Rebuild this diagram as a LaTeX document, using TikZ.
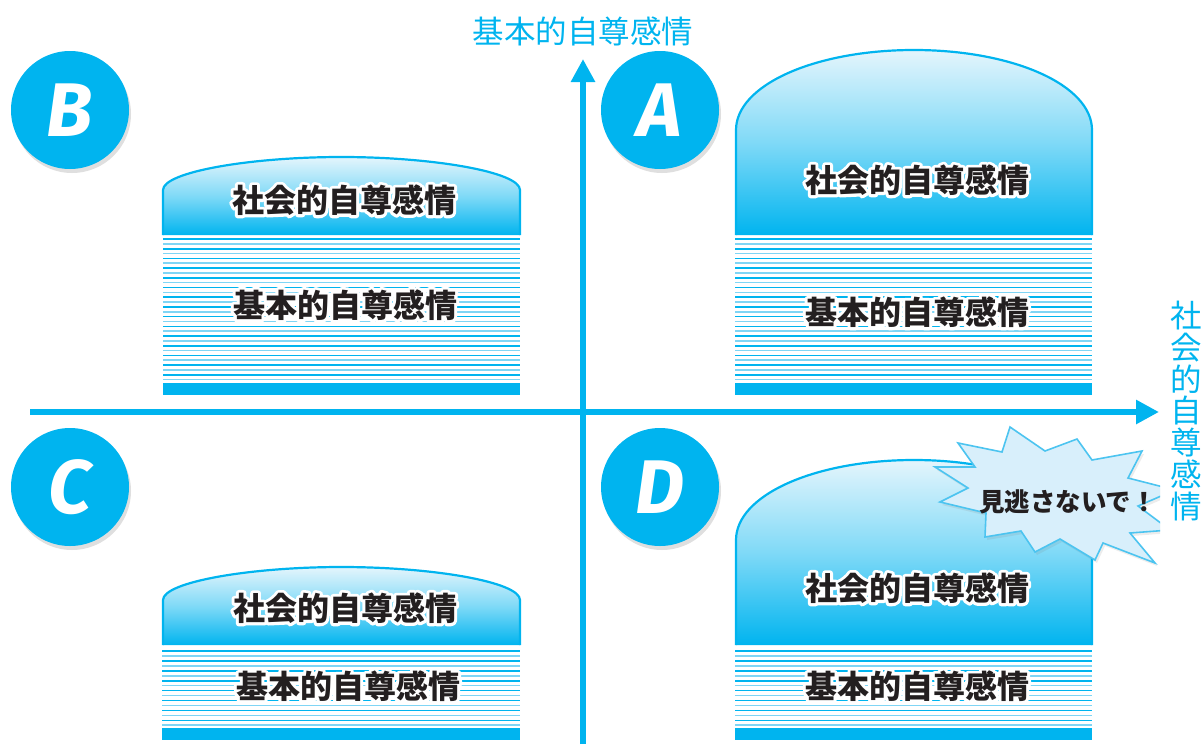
\documentclass[tikz,border=0pt]{standalone}
\usepackage{fontspec}
\newfontfamily\jp{Noto Sans CJK JP}
\newfontfamily\letterfont{Fira Sans}
\usetikzlibrary{arrows.meta,shadows}
\definecolor{sky}{HTML}{00B4EF}
\definecolor{skylight}{HTML}{7FD5F5}
\definecolor{skypale}{HTML}{E4F5FC}
\definecolor{burst}{HTML}{D8EFFB}
\definecolor{burstline}{HTML}{4CC4F0}
\definecolor{ink}{HTML}{231F20}
% white halo: the text stroked thick in white, then the text itself on top
\newcommand\halo[1]{\leavevmode\rlap{\special{pdf:literal direct 1 Tr 6 w 1 J 1 j 1 1 1 RG}#1\special{pdf:literal direct 0 Tr}}#1}
\newcommand\stripes[5]{% left, right, first y, count, step
  \foreach \k in {0,...,#4} {
    \pgfmathsetmacro\yy{#3+\k*#5}
    \ifodd\k \def\cc{skylight}\else\def\cc{sky}\fi
    \draw[\cc,line width=1.6pt] (#1,\yy) -- (#2,\yy);
  }}
\begin{document}
\begin{tikzpicture}[x=1pt,y=-1pt,
  axis/.style={sky,line width=6pt,-{Triangle[length=23pt 0,width=23pt 0]}},
  badge/.style={circle,fill=sky,minimum size=118pt,inner sep=0pt,text=white,
    font=\letterfont\bfseries\itshape\fontsize{76}{76}\selectfont,
    drop shadow={shadow xshift=2pt,shadow yshift=-4pt,opacity=.25}},
  strong/.style={text=ink,inner sep=0pt,font=\jp\bfseries\fontsize{32}{34}\selectfont},
  axislabel/.style={text=sky,inner sep=0pt,font=\jp\fontsize{31.5}{31.7}\selectfont},
  capfill/.style={top color=skypale,bottom color=sky,middle color=sky!50!white},
  capline/.style={sky,line width=2.2pt},
  bar/.style={fill=sky,draw=none},
  burstshape/.style={fill=burst,draw=burstline,line width=1.6pt,line join=miter,
    drop shadow={shadow xshift=2pt,shadow yshift=-3pt,opacity=.15}},
]
\useasboundingbox (0,0) rectangle (1201,744);

% ---------- box B ----------
\shade[capfill] (163,235) -- (163,190) .. controls (163,172) and (250,157) .. (341.5,157)
   .. controls (433,157) and (520,172) .. (520,190) -- (520,235) -- cycle;
\draw[capline] (163,235) -- (163,190) .. controls (163,172) and (250,157) .. (341.5,157)
   .. controls (433,157) and (520,172) .. (520,190) -- (520,235);
\stripes{163}{520}{239}{29}{4.85}
\fill[bar] (163,383) rectangle (520,395);
\node[strong] (bs) at (344,200) {\halo{社会的自尊感情}};
\node[strong] (bb) at (345,305) {\halo{基本的自尊感情}};

% ---------- box A ----------
\shade[capfill] (736,235) -- (736,130) .. controls (736,85) and (815,50) .. (914,50)
   .. controls (1013,50) and (1092,85) .. (1092,130) -- (1092,235) -- cycle;
\draw[capline] (736,235) -- (736,130) .. controls (736,85) and (815,50) .. (914,50)
   .. controls (1013,50) and (1092,85) .. (1092,130) -- (1092,235);
\stripes{735}{1092}{239}{29}{4.85}
\fill[bar] (735,383) rectangle (1092,395);
\node[strong] (as) at (917,180) {\halo{社会的自尊感情}};
\node[strong] (ab) at (917,312) {\halo{基本的自尊感情}};

% ---------- box C ----------
\shade[capfill] (163,645) -- (163,600) .. controls (163,582) and (250,567) .. (341.5,567)
   .. controls (433,567) and (520,582) .. (520,600) -- (520,645) -- cycle;
\draw[capline] (163,645) -- (163,600) .. controls (163,582) and (250,567) .. (341.5,567)
   .. controls (433,567) and (520,582) .. (520,600) -- (520,645);
\stripes{162}{520}{651}{15}{4.95}
\fill[bar] (162,728) rectangle (520,740);
\node[strong] (cs) at (345,608) {\halo{社会的自尊感情}};
\node[strong] (cb) at (348,686) {\halo{基本的自尊感情}};

% ---------- box D ----------
\shade[capfill] (736,645) -- (736,540) .. controls (736,495) and (815,460) .. (914,460)
   .. controls (1013,460) and (1092,495) .. (1092,540) -- (1092,645) -- cycle;
\draw[capline] (736,645) -- (736,540) .. controls (736,495) and (815,460) .. (914,460)
   .. controls (1013,460) and (1092,495) .. (1092,540) -- (1092,645);
\stripes{735}{1092}{651}{15}{4.95}
\fill[bar] (735,728) rectangle (1092,740);
\node[strong] (ds) at (917,588) {\halo{社会的自尊感情}};
\node[strong] (db) at (917,686) {\halo{基本的自尊感情}};

% ---------- axes ----------
\coordinate (vbot) at (583,744);
\coordinate (vtop) at (583,59);
\coordinate (hleft) at (30,412);
\coordinate (hright) at (1159,412);
\draw[axis] (vbot) -- (vtop);
\draw[axis] (hleft) -- (hright);
\node[axislabel] (ylab) at (583,31) {基本的自尊感情};
\node[axislabel,align=center] (xlab) at (1186,411) {社\\会\\的\\自\\尊\\感\\情};

% ---------- badges ----------
\node[badge] (B) at (70,110) {B};
\node[badge] (A) at (660,110) {A};
\node[badge] (C) at (70,487) {C};
\node[badge] (D) at (660,487) {D};

% ---------- starburst ----------
\begin{scope}
\clip (0,0) rectangle (1160,744);
\draw[burstshape] (1010,427) -- (1045,451) -- (1077,439) -- (1092,460) -- (1142,451)
  -- (1128,478) -- (1175,490) -- (1138,506) -- (1170,530) -- (1130,533) -- (1155,563)
  -- (1103,543) -- (1095,560) -- (1060,539) -- (1035,552) -- (1021,531) -- (985,537)
  -- (986,513) -- (940,502) -- (968,488) -- (935,467) -- (975,467) -- (958,443)
  -- (1002,452) -- cycle;
\end{scope}
\node[text=ink,inner sep=0pt,font=\jp\bfseries\fontsize{25.5}{28}\selectfont] (miss) at (1068,502) {見逃さないで！};
\end{tikzpicture}
\end{document}
